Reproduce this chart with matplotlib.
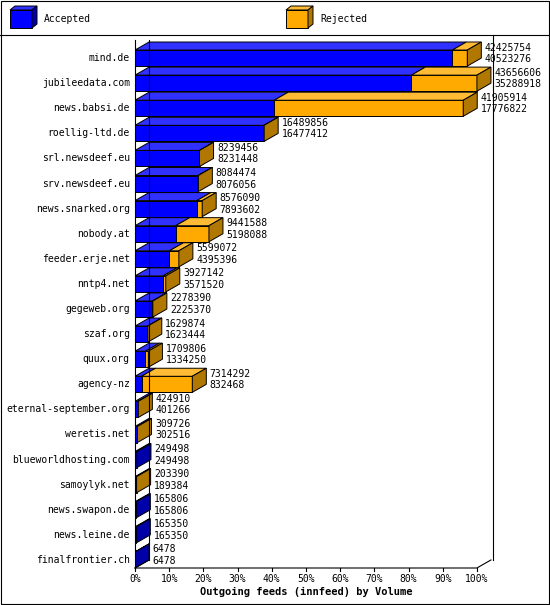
import matplotlib.pyplot as plt
from matplotlib.patches import Polygon

feeds = ["mind.de", "jubileedata.com", "news.babsi.de", "roellig-ltd.de", "srl.newsdeef.eu",
         "srv.newsdeef.eu", "news.snarked.org", "nobody.at", "feeder.erje.net", "nntp4.net",
         "gegeweb.org", "szaf.org", "quux.org", "agency-nz", "eternal-september.org",
         "weretis.net", "blueworldhosting.com", "samoylyk.net", "news.swapon.de",
         "news.leine.de", "finalfrontier.ch"]
offered = [42425754, 43656606, 41905914, 16489856, 8239456, 8084474, 8576090, 9441588,
           5599072, 3927142, 2278390, 1629874, 1709806, 7314292, 424910, 309726, 249498,
           203390, 165806, 165350, 6478]
accepted = [40523276, 35288918, 17776822, 16477412, 8231448, 8076056, 7893602, 5198088,
            4395396, 3571520, 2225370, 1623444, 1334250, 832468, 401266, 302516, 249498,
            189384, 165806, 165350, 6478]

BLUE, BLUE_D, BLUE_T = "#0000ff", "#0000a8", "#3030ff"
ORANGE, ORANGE_D, ORANGE_T = "#ffaa00", "#b07800", "#ffbb33"
MONO = "DejaVu Sans Mono"

fig = plt.figure(figsize=(5.5, 6.05), dpi=100)
ax = fig.add_axes([135 / 550, 1 - 568 / 605, 358 / 550, 528 / 605])
ax.set_xlim(0, 104.7)
ax.set_ylim(20.32, -0.72)
ax.axis("off")

scale = max(offered)
dx, dy = 4.1, 0.32
h = 0.64


def box(x0, x1, yc, face, side, top, draw_side):
    yb, yt = yc + h / 2, yc - h / 2
    ax.add_patch(Polygon([(x0, yb), (x1, yb), (x1, yt), (x0, yt)], fc=face, ec="black", lw=0.7))
    ax.add_patch(Polygon([(x0, yt), (x1, yt), (x1 + dx, yt - dy), (x0 + dx, yt - dy)],
                         fc=top, ec="black", lw=0.7))
    if draw_side:
        ax.add_patch(Polygon([(x1, yb), (x1 + dx, yb - dy), (x1 + dx, yt - dy), (x1, yt)],
                             fc=side, ec="black", lw=0.7))


for i, (name, off, acc) in enumerate(zip(feeds, offered, accepted)):
    yc = i
    pa = acc / scale * 100
    po = off / scale * 100
    box(0, pa, yc, BLUE, BLUE_D, BLUE_T, po <= pa)
    if po > pa:
        box(pa, po, yc, ORANGE, ORANGE_D, ORANGE_T, True)
    tx = po + dx + 1
    ax.text(tx, i - 0.42, str(off), fontsize=7, family=MONO, va="center")
    ax.text(tx, i + 0.04, str(acc), fontsize=7, family=MONO, va="center")
    ax.text(-1.5, i, name, fontsize=7, family=MONO, ha="right", va="center")

# frame / floor
ybot = 20.32
ax.plot([0, 0], [-0.72, ybot], color="black", lw=0.8, clip_on=False)
ax.plot([0, 100, 100 + dx], [ybot, ybot, ybot - dy], color="black", lw=0.8, clip_on=False)
ax.plot([dx, dx], [-0.72, ybot - dy], color="black", lw=0.8, clip_on=False)
ax.plot([0, dx], [ybot, ybot - dy], color="black", lw=0.8, clip_on=False)
for k in range(0, 101, 10):
    ax.plot([k, k], [ybot, ybot + 0.12], color="black", lw=0.8, clip_on=False)
    ax.text(k, ybot + 0.42, f"{k}%", fontsize=7, family=MONO, ha="center", va="center")
ax.text(50, ybot + 0.95, "Outgoing feeds (innfeed) by Volume", fontsize=7.5,
        family=MONO, weight="bold", ha="center", va="center")

# legend area and outer border
fig.add_artist(plt.Line2D([0, 1], [1 - 35 / 605, 1 - 35 / 605], color="black", lw=0.8))
fig.add_artist(plt.Line2D([493 / 550, 493 / 550], [1 - 35 / 605, 1 - 560 / 605], color="black", lw=0.8))
fig.add_artist(plt.Rectangle((0.002, 0.002), 0.996, 0.996, fill=False, ec="black", lw=0.8))
lax = fig.add_axes([0, 1 - 35 / 605, 1, 35 / 605])
lax.set_xlim(0, 550)
lax.set_ylim(35, 0)
lax.axis("off")
for x0, face, side, top, lab in [(10, BLUE, BLUE_D, BLUE_T, "Accepted"),
                                  (286, ORANGE, ORANGE_D, ORANGE_T, "Rejected")]:
    lax.add_patch(Polygon([(x0, 28), (x0 + 22, 28), (x0 + 22, 10), (x0, 10)], fc=face, ec="black", lw=0.7))
    lax.add_patch(Polygon([(x0, 10), (x0 + 22, 10), (x0 + 27, 6), (x0 + 5, 6)], fc=top, ec="black", lw=0.7))
    lax.add_patch(Polygon([(x0 + 22, 28), (x0 + 27, 24), (x0 + 27, 6), (x0 + 22, 10)], fc=side, ec="black", lw=0.7))
    lax.text(x0 + 34, 19, lab, fontsize=7, family=MONO, va="center")

fig.savefig("out.png", dpi=100)
